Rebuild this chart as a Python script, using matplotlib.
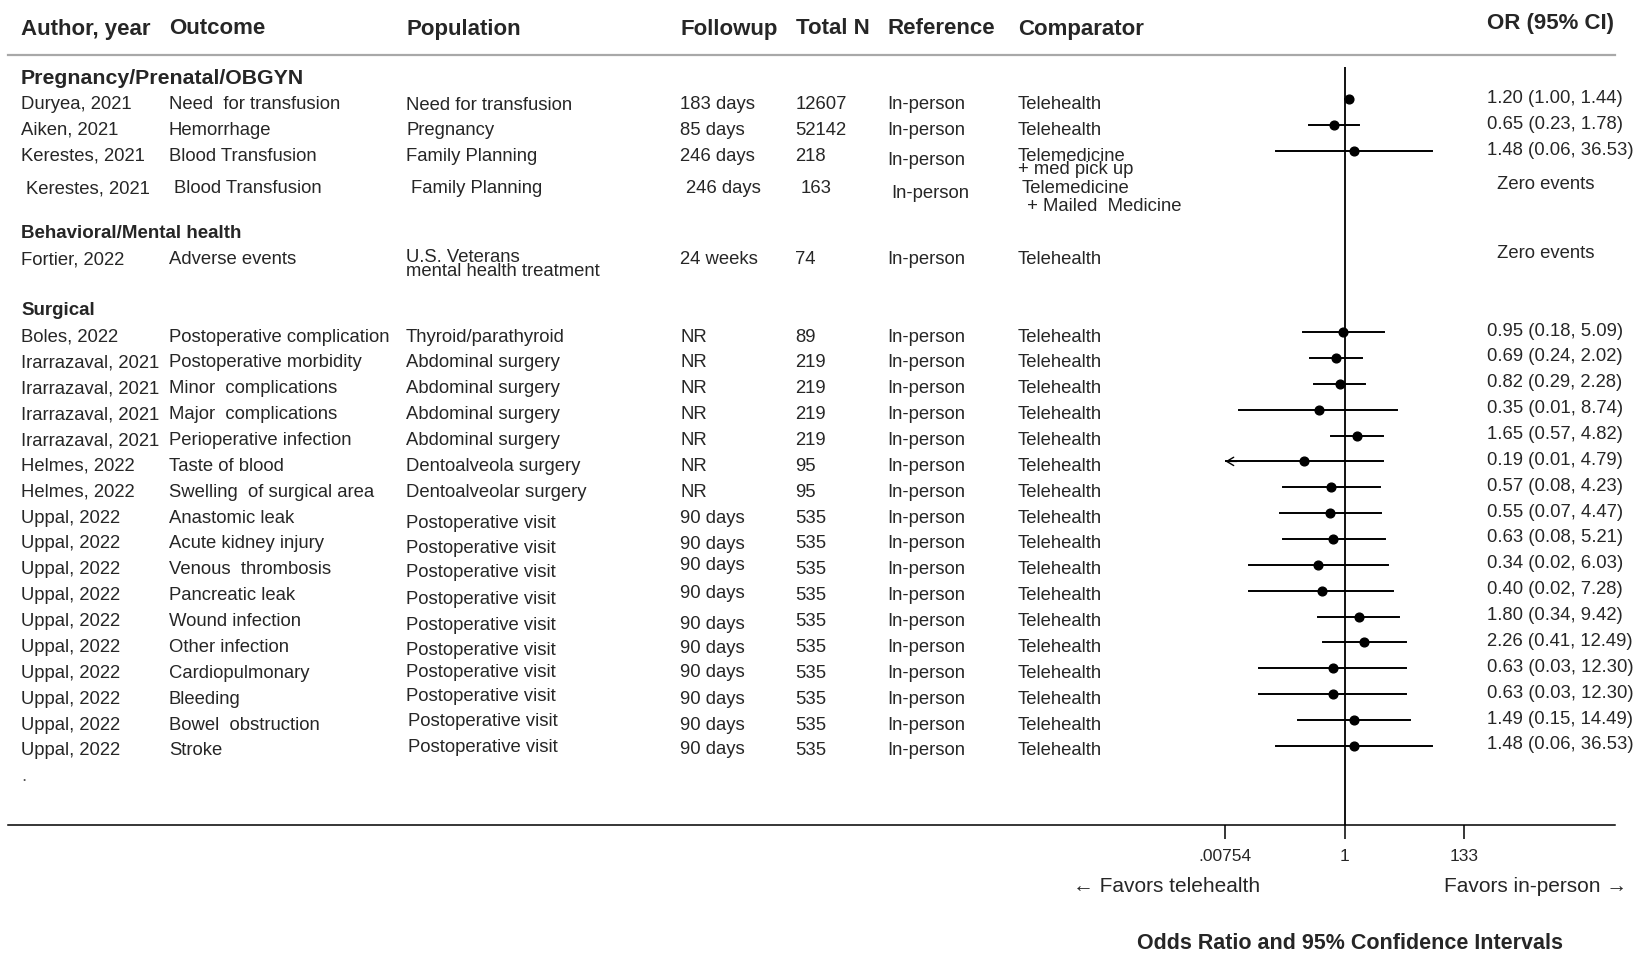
import numpy as np
import matplotlib
matplotlib.use("Agg")
import matplotlib.pyplot as plt
from matplotlib.ticker import NullLocator

plt.rcParams["font.family"] = ["Liberation Sans", "DejaVu Sans"]

W, H = 1639, 955
txt_col = "#262626"

# ---------------- data ----------------
groups = ["Pregnancy/Prenatal/OBGYN", "Behavioral/Mental health", "Surgical"]
group_slot = [0, 6, 9]
group_size = [15.3, 13.5, 13.5]

authors = ["Duryea, 2021", "Aiken, 2021", "Kerestes, 2021", "Kerestes, 2021",
           "Fortier, 2022", "Boles, 2022",
           "Irarrazaval, 2021", "Irarrazaval, 2021", "Irarrazaval, 2021", "Irarrazaval, 2021",
           "Helmes, 2022", "Helmes, 2022"] + ["Uppal, 2022"] * 10
outcomes = ["Need  for transfusion", "Hemorrhage", "Blood Transfusion", "Blood Transfusion",
            "Adverse events", "Postoperative complication", "Postoperative morbidity",
            "Minor  complications", "Major  complications", "Perioperative infection",
            "Taste of blood", "Swelling  of surgical area", "Anastomic leak",
            "Acute kidney injury", "Venous  thrombosis", "Pancreatic leak", "Wound infection",
            "Other infection", "Cardiopulmonary", "Bleeding", "Bowel  obstruction", "Stroke"]
populations = ["Need for transfusion", "Pregnancy", "Family Planning", "Family Planning",
               "U.S. Veterans\nmental health treatment", "Thyroid/parathyroid",
               "Abdominal surgery", "Abdominal surgery", "Abdominal surgery", "Abdominal surgery",
               "Dentoalveola surgery", "Dentoalveolar surgery"] + ["Postoperative visit"] * 10
followup = ["183 days", "85 days", "246 days", "246 days", "24 weeks"] + ["NR"] * 7 + ["90 days"] * 10
total_n = ["12607", "52142", "218", "163", "74", "89", "219", "219", "219", "219", "95", "95"] + ["535"] * 10
reference = ["In-person"] * 22
comparator = ["Telehealth", "Telehealth", "Telemedicine\n+ med pick up",
              "Telemedicine\n + Mailed  Medicine"] + ["Telehealth"] * 18

nan = np.nan
or_est = [1.20, 0.65, 1.48, nan, nan, 0.95, 0.69, 0.82, 0.35, 1.65, 0.19, 0.57,
          0.55, 0.63, 0.34, 0.40, 1.80, 2.26, 0.63, 0.63, 1.49, 1.48]
ci_lo = [1.00, 0.23, 0.06, nan, nan, 0.18, 0.24, 0.29, 0.013, 0.57, 0.0073, 0.08,
         0.07, 0.08, 0.02, 0.02, 0.34, 0.41, 0.03, 0.03, 0.15, 0.06]
ci_hi = [1.44, 1.78, 36.53, nan, nan, 5.09, 2.02, 2.28, 8.74, 4.82, 4.79, 4.23,
         4.47, 5.21, 6.03, 7.28, 9.42, 12.49, 12.30, 12.30, 14.49, 36.53]

row_slot = [1, 2, 3, 4, 7] + list(range(10, 27))
x_ticks = [0.00754, 1, 133]
x_ticklabels = [".00754", "1", "133"]

# ---------------- layout (pixels) ----------------
slot_y0, slot_h = 73.5, 25.86
def slot_px(s):
    return slot_y0 + slot_h * s

col_x = {"author": 21, "outcome": 169, "pop": 406, "fu": 680.5, "n": 795.5, "ref": 887.5, "comp": 1018}
base_dy = 5
body_fs = 13.3
n_rows = len(authors)
row_dx = [0] * n_rows
row_dy = [0] * n_rows
row_dx[3], row_dy[3] = 5, 7
pop_dy = [1.2] + [0] * 3 + [-2] + [0] * 7 + [5.5, 4.8, 3, 3.3, 3.6, 2.7, -1.1, -2.9, -3.7, -3.4]
pop_dx = [0] * 20 + [2, 2]
fu_dy = [0] * 12 + [0.3, 0.6, -4.3, -2, 2.5, 0.6, -1.1, 0.2, 0.4, -1.3]
ref_dy = [0, 0, 4.5, 4.5] + [0] * 18
line_step = {"comp": [13.5, 13.5, 13.5, 18] + [13.5] * 18, "pop": [14] * 22}

fig = plt.figure(figsize=(W / 100, H / 100), dpi=100)
tab = fig.add_axes([0, 0, 1, 1])
tab.set_xlim(0, W)
tab.set_ylim(H, 0)
tab.axis("off")

def put(x, y, s, step=13, **kw):
    kw.setdefault("fontsize", body_fs)
    kw.setdefault("color", txt_col)
    kw.setdefault("va", "center")
    for j, line in enumerate(s.split("\n")):
        tab.text(x, y + j * step, line, **kw)

# header
hdr_y = 29
headers = [("author", "Author, year"), ("outcome", "Outcome"), ("pop", "Population"),
           ("fu", "Followup"), ("n", "Total N"), ("ref", "Reference"), ("comp", "Comparator")]
for key, lab in headers:
    put(col_x[key], hdr_y, lab, fontsize=16, fontweight="bold")
put(1614, hdr_y - 6, "OR (95% CI)", fontsize=16, fontweight="bold", ha="right")
tab.plot([8, 1615], [55.4, 55.4], color="#a8a8a8", lw=1.6)

# group headings
for g, s, fs in zip(groups, group_slot, group_size):
    put(21, slot_px(s) + 4.5, g, fontsize=fs, fontweight="bold")

# table rows
for i in range(n_rows):
    y = slot_px(row_slot[i]) + base_dy + row_dy[i]
    dx = row_dx[i]
    put(col_x["author"] + dx, y, authors[i])
    put(col_x["outcome"] + dx, y, outcomes[i])
    put(col_x["pop"] + dx + pop_dx[i], y + pop_dy[i], populations[i], step=line_step["pop"][i])
    put(col_x["fu"] + dx, y + fu_dy[i], followup[i])
    put(col_x["n"] + dx, y, total_n[i])
    put(col_x["ref"] + (4 if i == 3 else 0), y + ref_dy[i], reference[i])
    put(col_x["comp"] + (4 if i == 3 else 0), y, comparator[i], step=line_step["comp"][i])
    if np.isnan(or_est[i]):
        zy = slot_px(row_slot[i]) + (8 if i == 3 else -1.5)
        put(1497, zy, "Zero events")
    else:
        lab = "%.2f (%.2f, %.2f)" % (or_est[i], ci_lo[i], ci_hi[i])
        put(1487, slot_px(row_slot[i]) - 1, lab)
put(21, slot_px(27) + 5, ".", color="#555555")

# ---------------- forest panel ----------------
x0_px, x1_px = 1225.4, 1463.8
top_px, axis_px = 67, 825
ax = fig.add_axes([x0_px / W, 1 - axis_px / H, (x1_px - x0_px) / W, (axis_px - top_px) / H])
ax.set_facecolor("none")
ax.set_xscale("log")
xmin, xmax = x_ticks[0], x_ticks[-1]
ax.set_xlim(xmin, xmax)
ax.set_ylim((axis_px - slot_y0) / slot_h, (top_px - slot_y0) / slot_h)
ax.axvline(1, color="k", lw=1.3, zorder=1)

for i in range(n_rows):
    if np.isnan(or_est[i]):
        continue
    s = row_slot[i]
    if ci_lo[i] < xmin:
        ax.plot([xmin, ci_hi[i]], [s, s], color="k", lw=1.4, zorder=2)
        ax.annotate("", xy=(xmin, s), xytext=(xmin * 1.6, s),
                    arrowprops=dict(arrowstyle="->,head_length=0.5,head_width=0.3",
                                    lw=1.0, color="k", shrinkA=0, shrinkB=0))
    else:
        ax.plot([ci_lo[i], ci_hi[i]], [s, s], color="k", lw=1.4, zorder=2)
    ax.plot(or_est[i], s, "o", color="k", ms=6.3, zorder=3)

ax.set_xticks(x_ticks)
ax.set_xticklabels(x_ticklabels)
ax.xaxis.set_minor_locator(NullLocator())
ax.set_yticks([])
for sp in ax.spines.values():
    sp.set_visible(False)
ax.tick_params(axis="x", direction="out", length=10, width=1.1, pad=7,
               labelsize=12.5, color="k", labelcolor=txt_col)

tab.plot([8, 1615], [axis_px, axis_px], color="k", lw=1.1)

put(1260, 886, "\u2190 Favors telehealth", fontsize=15, ha="right")
put(1444, 886, "Favors in-person \u2192", fontsize=15, ha="left")
put(1350, 943, "Odds Ratio and 95% Confidence Intervals", fontsize=15.5,
    fontweight="bold", ha="center")

fig.savefig("out.png", dpi=100)
